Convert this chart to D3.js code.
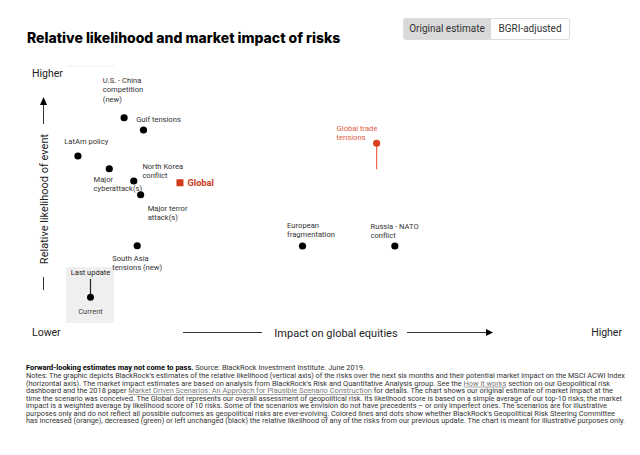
<!DOCTYPE html>
<html>
<head>
<meta charset="utf-8">
<script src="https://cdn.jsdelivr.net/npm/d3@7"></script>
<style>
  html, body { margin: 0; padding: 0; background: #fff; }
  svg { display: block; }
</style>
</head>
<body>
<svg id="chart" width="640" height="455"></svg>
<script>
// ---------------- DATA ----------------
const risks = [
  "U.S. - China competition (new)",
  "Gulf tensions",
  "LatAm policy",
  "Major cyberattack(s)",
  "North Korea conflict",
  "Major terror attack(s)",
  "South Asia tensions (new)",
  "European fragmentation",
  "Russia - NATO conflict",
  "Global trade tensions"
];
const labelLines = [
  ["U.S. - China", "competition", "(new)"],
  ["Gulf tensions"],
  ["LatAm policy"],
  ["Major", "cyberattack(s)"],
  ["North Korea", "conflict"],
  ["Major terror", "attack(s)"],
  ["South Asia", "tensions (new)"],
  ["European", "fragmentation"],
  ["Russia - NATO", "conflict"],
  ["Global trade", "tensions"]
];
// impact on global equities (x), relative likelihood (y), 0-100 index
const impact     = [13.0, 16.4, 4.9, 10.4, 14.7, 15.9, 15.3, 44.3, 60.5, 57.3];
const likelihood = [84.9, 80.0, 69.6, 64.5, 59.6, 54.1, 33.7, 33.6, 33.6, 74.7];
const previousLikelihood = [null, null, null, null, null, null, null, null, null, 64.3];
const change = ["unchanged","unchanged","unchanged","unchanged","unchanged","unchanged","unchanged","unchanged","unchanged","increased"];
const globalPoint = { name: "Global", impact: 22.8, likelihood: 58.9 };
const xTickLabels = ["Lower", "Higher"];
const yTickLabels = ["Lower", "Higher"];
const toggleLabels = ["Original estimate", "BGRI-adjusted"];

// ---------------- LAYOUT (label offsets in px relative to dot) ----------------
const labelOffsets = [
  [-21.3, -37.7], [-7.3, -10.7], [-13.7, -15], [-15.7, 10.3], [8.6, -15],
  [7, 13.6], [-25, 12.6], [-15.4, -21], [-24.3, -20], [-40, -15]
];
const lineH = 9.4;
const colors = { unchanged: "#000", increased: "#d9411e", decreased: "#2e8b3e" };
const labelColors = { unchanged: "#333", increased: "#e0603f", decreased: "#2e8b3e" };

const svg = d3.select("#chart");
const FONT = "Roboto, 'Noto Sans', sans-serif";

const x = d3.scaleLinear().domain([0, 100]).range([50, 620]);
const y = d3.scaleLinear().domain([0, 100]).range([330, 80]);

// Title
svg.append("text").attr("x", 27).attr("y", 43)
  .attr("font-family", "Inter, Roboto, sans-serif").attr("font-weight", 800)
  .attr("font-size", 14).attr("fill", "#000")
  .text("Relative likelihood and market impact of risks");

// Toggle buttons
const tg = svg.append("g");
tg.append("rect").attr("x", 403.5).attr("y", 18.5).attr("width", 166).attr("height", 21)
  .attr("rx", 2).attr("fill", "#fff").attr("stroke", "#ddd");
tg.append("rect").attr("x", 404).attr("y", 19).attr("width", 87).attr("height", 20)
  .attr("fill", "#d9d9d9");
tg.append("text").attr("x", 447).attr("y", 32).attr("text-anchor", "middle")
  .attr("font-family", FONT).attr("font-size", 10).attr("fill", "#333").text(toggleLabels[0]);
tg.append("text").attr("x", 530).attr("y", 32).attr("text-anchor", "middle")
  .attr("font-family", FONT).attr("font-size", 10).attr("fill", "#333").text(toggleLabels[1]);

// faint line
svg.append("line").attr("x1", 67).attr("x2", 115).attr("y1", 66).attr("y2", 66)
  .attr("stroke", "#f0f0f0");

// Axis end labels
svg.append("text").attr("x", 32).attr("y", 77).attr("font-family", FONT)
  .attr("font-size", 10.5).attr("fill", "#222").text(yTickLabels[1]);
svg.append("text").attr("x", 32).attr("y", 336).attr("font-family", FONT)
  .attr("font-size", 10.5).attr("fill", "#222").text(xTickLabels[0]);
svg.append("text").attr("x", 622).attr("y", 336).attr("text-anchor", "end").attr("font-family", FONT)
  .attr("font-size", 10.5).attr("fill", "#222").text(xTickLabels[1]);

// Horizontal axis title with arrow
svg.append("line").attr("x1", 183).attr("x2", 262).attr("y1", 332.5).attr("y2", 332.5)
  .attr("stroke", "#333").attr("stroke-width", 1);
svg.append("text").attr("x", 336).attr("y", 336.5).attr("text-anchor", "middle")
  .attr("font-family", FONT).attr("font-size", 11).attr("fill", "#222")
  .text("Impact on global equities");
svg.append("line").attr("x1", 407).attr("x2", 487).attr("y1", 332.5).attr("y2", 332.5)
  .attr("stroke", "#333").attr("stroke-width", 1);
svg.append("path").attr("d", "M486,329 L493,332.5 L486,336 Z").attr("fill", "#000");

// Vertical axis title with arrow
svg.append("line").attr("x1", 43.5).attr("x2", 43.5).attr("y1", 104).attr("y2", 124)
  .attr("stroke", "#333");
svg.append("path").attr("d", "M40,105 L43.5,97 L47,105 Z").attr("fill", "#000");
svg.append("text").attr("transform", "translate(47.5,199) rotate(-90)")
  .attr("text-anchor", "middle").attr("font-family", FONT).attr("font-size", 11)
  .attr("fill", "#222").text("Relative likelihood of event");
svg.append("line").attr("x1", 43.5).attr("x2", 43.5).attr("y1", 277).attr("y2", 290)
  .attr("stroke", "#333");

// Legend box
const lg = svg.append("g");
lg.append("rect").attr("x", 66).attr("y", 267).attr("width", 48).attr("height", 56).attr("fill", "#efefef");
lg.append("text").attr("x", 90.5).attr("y", 275).attr("text-anchor", "middle")
  .attr("font-family", FONT).attr("font-size", 7.5).attr("fill", "#222").text("Last update");
lg.append("line").attr("x1", 90.5).attr("x2", 90.5).attr("y1", 279).attr("y2", 297)
  .attr("stroke", "#222").attr("stroke-width", 1.2);
lg.append("circle").attr("cx", 90.5).attr("cy", 297.3).attr("r", 3.5).attr("fill", "#000");
lg.append("text").attr("x", 90.5).attr("y", 313.5).attr("text-anchor", "middle")
  .attr("font-family", FONT).attr("font-size", 7.5).attr("fill", "#444").text("Current");

// Data points
const data = risks.map((name, i) => ({
  name, lines: labelLines[i], x: impact[i], y: likelihood[i], prev: previousLikelihood[i],
  change: change[i], off: labelOffsets[i]
}));

const pts = svg.append("g");
pts.selectAll("line.chg").data(data.filter(d => d.prev !== null)).join("line")
  .attr("class", "chg")
  .attr("x1", d => x(d.x)).attr("x2", d => x(d.x))
  .attr("y1", d => y(d.y)).attr("y2", d => y(d.prev))
  .attr("stroke", "#e8694b").attr("stroke-width", 1.2);

pts.selectAll("circle.pt").data(data).join("circle")
  .attr("class", "pt")
  .attr("cx", d => x(d.x)).attr("cy", d => y(d.y)).attr("r", 3.6)
  .attr("fill", d => colors[d.change]);

const lbl = pts.selectAll("text.lbl").data(data).join("text")
  .attr("class", "lbl")
  .attr("font-family", FONT).attr("font-size", 7.6)
  .attr("fill", d => labelColors[d.change]);
lbl.each(function(d) {
  const t = d3.select(this);
  d.lines.forEach((ln, k) => {
    t.append("tspan").attr("x", x(d.x) + d.off[0])
      .attr("y", y(d.y) + d.off[1] + k * lineH + 2.7).text(ln);
  });
});

// Global square
svg.append("rect").attr("x", x(globalPoint.impact) - 3.5).attr("y", y(globalPoint.likelihood) - 3.5)
  .attr("width", 7).attr("height", 7).attr("fill", "#d23c1b");
svg.append("text").attr("x", x(globalPoint.impact) + 7.5).attr("y", y(globalPoint.likelihood) + 3.3)
  .attr("font-family", FONT).attr("font-weight", 700).attr("font-size", 9.2)
  .attr("fill", "#c9381a").text(globalPoint.name);

// Notes
const notes = [
  { end: 365, parts: [{t: "Forward-looking estimates may not come to pass.", b: true}, {t: " Source: BlackRock Investment Institute. June 2019."}] },
  { end: 625, parts: [{t: "Notes: The graphic depicts BlackRock's estimates of the relative likelihood (vertical axis) of the risks over the next six months and their potential market impact on the MSCI ACWI Index"}] },
  { end: 610, parts: [{t: "(horizontal axis). The market impact estimates are based on analysis from BlackRock's Risk and Quantitative Analysis group. See the "}, {t: "How it works", l: true}, {t: " section on our Geopolitical risk"}] },
  { end: 613, parts: [{t: "dashboard and the 2018 paper "}, {t: "Market Driven Scenarios: An Approach for Plausible Scenario Construction", l: true}, {t: " for details. The chart shows our original estimate of market impact at the"}] },
  { end: 622, parts: [{t: "time the scenario was conceived. The Global dot represents our overall assessment of geopolitical risk. Its likelihood score is based on a simple average of our top-10 risks; the market"}] },
  { end: 607, parts: [{t: "impact is a weighted average by likelihood score of 10 risks. Some of the scenarios we envision do not have precedents \u2013 or only imperfect ones. The scenarios are for illustrative"}] },
  { end: 615, parts: [{t: "purposes only and do not reflect all possible outcomes as geopolitical risks are ever-evolving. Colored lines and dots show whether BlackRock's Geopolitical Risk Steering Committee"}] },
  { end: 625, parts: [{t: "has increased (orange), decreased (green) or left unchanged (black) the relative likelihood of any of the risks from our previous update. The chart is meant for illustrative purposes only."}] }
];
const noteY = [367.7, 375.7, 383.3, 391, 398.3, 405.7, 413.3, 420.7];
const ng = svg.append("g");
notes.forEach((n, i) => {
  const t = ng.append("text").attr("x", 26).attr("y", noteY[i] + 2.4)
    .attr("font-family", FONT).attr("font-size", 6.8).attr("fill", "#333")
    .attr("textLength", n.end - 26).attr("lengthAdjust", "spacingAndGlyphs");
  n.parts.forEach(p => {
    const s = t.append("tspan").text(p.t);
    if (p.b) s.attr("font-weight", 700).attr("fill", "#000");
    if (p.l) s.attr("fill", "#777").attr("text-decoration", "underline");
  });
});
</script>
</body>
</html>
